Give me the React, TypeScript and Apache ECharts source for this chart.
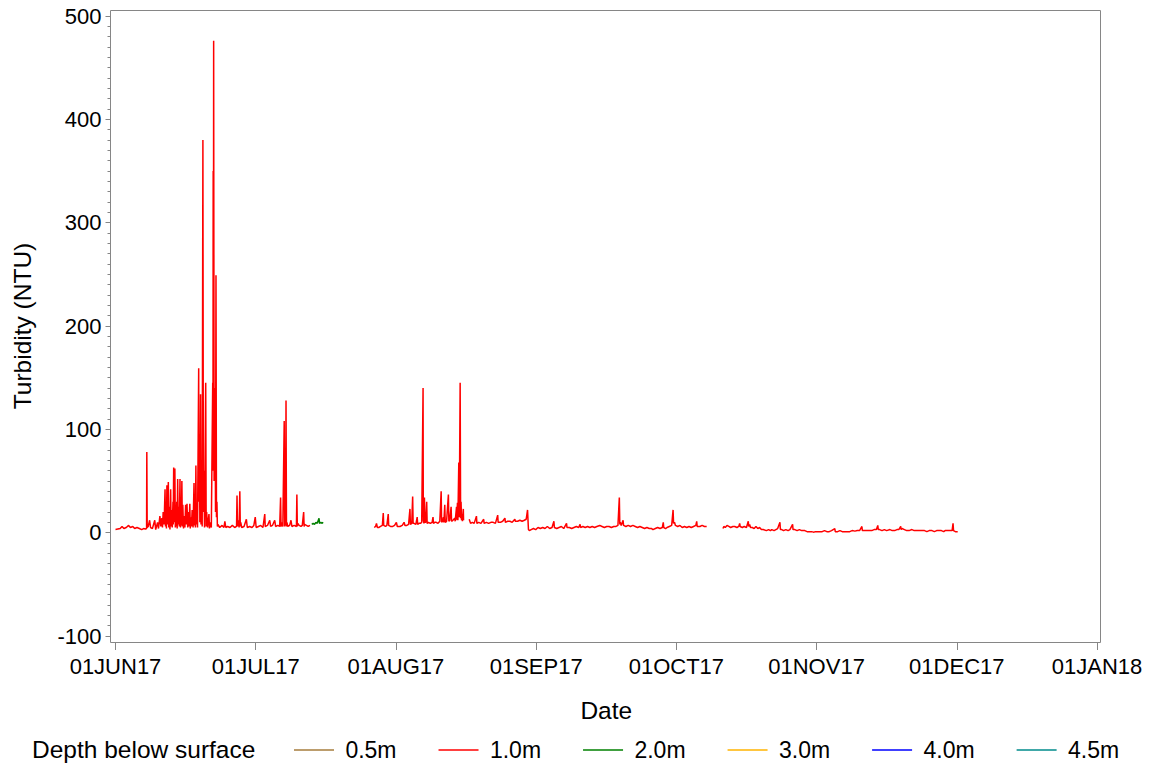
import React, { useEffect, useRef } from "react";
import * as echarts from "echarts";

// x tick labels (one per month start, evenly spaced as in the original)
const monthLabels = ["01JUN17", "01JUL17", "01AUG17", "01SEP17", "01OCT17", "01NOV17", "01DEC17", "01JAN18"];
// days since 01JUN17 at which each month starts
const monthStartDays = [0, 30, 61, 92, 122, 153, 183, 214];
const depthNames = ["0.5m", "1.0m", "2.0m", "3.0m", "4.0m", "4.5m"];
const depthColors = ["#A67C3D", "#FF0000", "#008000", "#FFB300", "#0000FF", "#008B8B"];

// [days since 01JUN17, turbidity NTU] — 1.0 m, first deployment
const d10SegA: number[][] = [
  [0.0,3],[0.5,3.5],[1.0,4],[1.4,6],[1.8,4],[2.3,5],[2.8,7],[3.2,5],[3.7,6],[4.1,4],[4.6,5],[5.1,4],[5.6,3],[6.0,4],[6.4,3.5],[6.65,4],[6.7,78],[6.78,5],[7.0,6],[7.3,12],[7.5,5],[7.9,4],[8.4,12],[8.6,3],[9.0,10],[9.2,4],[9.5,16],[9.7,6],[9.9,14],[10.05,5],[10.2,20],[10.4,8],[10.6,42],[10.7,6],[10.8,30],[10.9,4],[11.0,46],[11.15,8],[11.3,49],[11.4,5],[11.5,25],[11.65,3],[11.8,42],[11.9,6],[12.0,22],[12.15,5],[12.3,30],[12.35,8],[12.45,63],[12.55,10],[12.7,62],[12.8,5],[12.9,20],[13.0,6],[13.1,30],[13.2,4],[13.3,52],[13.4,8],[13.5,25],[13.65,6],[13.8,52],[13.9,5],[14.0,22],[14.1,7],[14.2,50],[14.3,6],[14.4,27],[14.55,4],[14.7,16],[14.85,5],[15.0,27],[15.15,8],[15.3,28],[15.45,5],[15.6,20],[15.75,6],[15.9,28],[16.0,4],[16.1,15],[16.25,6],[16.4,22],[16.6,5],[16.8,48],[16.9,7],[17.0,30],[17.1,5],[17.2,65],[17.3,8],[17.4,20],[17.55,5],[17.8,159],[17.85,30],[17.95,95],[18.05,10],[18.2,134],[18.3,8],[18.4,40],[18.55,6],[18.7,380],[18.8,20],[18.9,60],[19.05,5],[19.3,145],[19.4,6],[19.5,20],[19.7,5],[20.0,18],[20.1,4],[20.2,10],[20.5,5],[20.8,145],[20.85,60],[20.9,350],[20.95,120],[21.0,476],[21.1,50],[21.3,140],[21.4,20],[21.5,249],[21.6,15],[21.7,30],[21.8,6],[21.9,8],[22.3,5],[22.8,7],[23.2,5],[23.4,11],[23.6,5],[24.0,6],[24.5,5],[25.0,7],[25.5,5],[25.9,6],[26.0,36],[26.1,6],[26.3,12],[26.45,5],[26.6,40],[26.7,6],[26.8,10],[27.0,5],[27.5,6],[28.0,13],[28.2,5],[28.7,6],[29.2,5],[29.6,7],[29.9,15],[30.1,5],[30.6,6],[31.1,7],[31.6,5],[32.0,18],[32.1,6],[32.6,7],[33.1,12],[33.3,6],[33.7,7],[34.2,12],[34.4,6],[34.9,7],[35.3,6],[35.5,34],[35.6,6],[35.8,10],[36.0,6],[36.3,108],[36.4,6],[36.5,12],[36.6,7],[36.7,128],[36.8,6],[36.9,10],[37.1,6],[37.5,7],[37.8,12],[38.0,6],[38.5,7],[39.0,6],[39.1,37],[39.2,6],[39.3,9],[39.6,7],[40.0,6],[40.3,7],[40.6,20],[40.7,6],[40.8,8],[41.2,7],[41.6,6],[42.0,7]
];
// 1.0 m, second deployment
const d10SegB: number[][] = [
  [56.2,5],[56.5,6],[56.7,9],[56.9,5],[57.2,5],[57.6,6],[58.0,7],[58.2,19],[58.3,7],[58.7,6],[59.0,7],[59.3,18],[59.4,7],[59.8,6],[60.3,6],[60.7,7],[61.1,10],[61.3,6],[61.9,6],[62.4,7],[62.8,10],[63.0,7],[63.4,7],[63.8,8],[64.1,23],[64.2,8],[64.5,9],[64.7,35],[64.8,9],[65.0,9],[65.4,8],[65.7,15],[65.8,8],[66.1,9],[66.4,9],[66.7,10],[67.0,140],[67.05,12],[67.2,9],[67.3,34],[67.4,10],[67.6,10],[67.8,30],[67.9,9],[68.2,10],[68.6,9],[69.0,10],[69.2,15],[69.3,9],[69.6,10],[69.9,10],[70.3,9],[70.7,11],[71.0,40],[71.1,10],[71.3,11],[71.5,15],[71.6,10],[71.8,27],[71.9,10],[72.2,11],[72.6,37],[72.7,11],[72.9,12],[73.2,25],[73.3,11],[73.6,12],[74.0,14],[74.1,11],[74.4,25],[74.5,12],[74.6,29],[74.7,12],[74.9,68],[75.0,15],[75.2,145],[75.3,14],[75.4,30],[75.5,12],[75.6,18],[75.7,11],[75.9,23],[75.95,12]
];
// 1.0 m, third deployment
const d10SegC: number[][] = [
  [77.2,13],[77.5,9],[77.9,10],[78.3,9],[78.8,16],[78.9,9],[79.3,10],[79.8,9],[80.4,13],[80.5,9],[81.0,10],[81.5,9],[82.0,10],[82.5,10],[83.0,9],[83.5,17],[83.6,10],[84.1,10],[84.6,11],[85.1,14],[85.2,10],[85.7,11],[86.2,11],[86.7,10],[87.3,13],[87.4,11],[87.9,11],[88.4,12],[88.9,11],[89.4,12],[89.8,13],[90.1,22],[90.2,12],[90.3,3],[90.5,2],[90.9,3],[91.4,4],[91.9,3],[92.4,5],[92.9,4],[93.4,5],[93.9,4],[94.4,6],[94.9,4],[95.4,5],[95.8,11],[95.9,5],[96.4,4],[96.9,5],[97.4,6],[97.9,4],[98.5,9],[98.6,5],[99.1,5],[99.6,4],[100.1,5],[100.6,6],[101.1,5],[101.4,8],[101.5,5],[102.0,6],[102.5,5],[103.0,6],[103.5,5],[104.0,6],[104.5,5],[105.0,6],[105.6,7],[106.1,6],[106.6,5],[107.1,6],[107.6,6],[108.1,5],[108.6,6],[109.1,6],[109.5,7],[109.8,34],[109.9,8],[110.0,10],[110.2,7],[110.6,12],[110.7,7],[111.2,6],[111.7,7],[112.2,6],[112.7,7],[113.2,6],[113.7,5],[114.2,6],[114.7,5],[115.2,4],[115.7,5],[116.2,4],[116.7,4],[117.0,3],[117.5,4],[118.0,5],[118.5,4],[119.0,5],[119.2,10],[119.3,5],[119.7,4],[120.0,5],[120.5,6],[121.0,7],[121.3,22],[121.4,9],[121.6,10],[121.8,7],[122.3,6],[122.8,7],[123.3,5],[123.8,6],[124.3,5],[124.8,6],[125.3,5],[125.8,6],[126.3,7],[126.5,11],[126.6,6],[127.2,6],[127.7,7],[128.2,6],[128.7,6]
];
// 1.0 m, fourth deployment
const d10SegD: number[][] = [
  [132.3,4],[132.5,6],[132.8,5],[133.2,7],[133.6,6],[134.0,5],[134.5,6],[134.9,6],[135.4,5],[135.8,6],[136.0,9],[136.1,6],[136.6,5],[137.0,6],[137.5,5],[137.9,11],[138.0,6],[138.2,8],[138.4,5],[138.8,5],[139.2,4],[139.6,6],[140.0,4],[140.4,5],[140.8,3],[141.2,3],[141.9,2],[142.4,3],[142.8,2],[143.1,3],[143.6,2],[144.0,3],[144.4,4],[144.9,10],[145.0,3],[145.3,3],[145.7,2],[146.2,3],[146.7,2],[147.1,3],[147.7,8],[147.8,3],[148.2,3],[148.7,2],[149.2,3],[149.7,2],[150.4,2],[150.9,1],[151.4,1],[151.9,1],[152.3,0.5],[152.8,1],[153.3,1],[153.7,1],[154.2,1],[154.7,2],[155.2,1],[155.7,1],[156.2,2],[156.9,4],[157.0,1],[157.5,1],[158.0,2],[158.5,1],[159.1,1],[159.6,1],[160.1,1],[160.6,2],[161.2,1.5],[161.7,2],[162.2,2],[162.7,6],[162.8,2],[163.3,2],[163.8,2],[164.3,2],[164.8,2],[165.3,3],[165.8,3],[166.1,7],[166.2,3],[166.5,3],[167.0,2],[167.5,3],[168.0,2],[168.7,3],[169.2,2],[169.7,2],[170.2,3],[170.6,3],[171.0,6],[171.1,3],[171.3,4],[171.8,3],[172.3,2],[172.8,2],[173.4,3],[173.9,2],[174.4,2],[174.9,2],[175.6,2],[176.1,2],[176.6,1],[177.1,2],[177.7,2],[178.2,1],[178.7,2],[179.2,2],[179.7,2],[180.2,1],[180.5,2],[181.0,2],[181.5,2],[182.0,2],[182.2,9],[182.3,2],[182.7,1],[183.2,1]
];
// 2.0 m
const d20Seg: number[][] = [
  [42.4,8],[42.7,9],[43.0,8],[43.3,10],[43.6,9],[44.0,14],[44.1,9],[44.4,10],[44.7,9],[44.9,10]
];

function toMonthPos(day: number): number {
  for (let i = 0; i < monthStartDays.length - 1; i++) {
    if (day < monthStartDays[i + 1]) {
      return i + (day - monthStartDays[i]) / (monthStartDays[i + 1] - monthStartDays[i]);
    }
  }
  return monthStartDays.length - 1;
}

function build(segs: number[][][]): any[] {
  const out: any[] = [];
  segs.forEach((seg, k) => {
    if (k > 0) out.push([toMonthPos(seg[0][0] - 0.05), "-"]);
    seg.forEach(([d, v]) => out.push([toMonthPos(d), v]));
  });
  return out;
}

const AXIS = "#868686";
const FONT = '"Liberation Sans", Arial, sans-serif';

export default function App() {
  const ref = useRef<HTMLDivElement>(null);
  useEffect(() => {
    if (!ref.current) return;
    const chart = echarts.init(ref.current, undefined, { renderer: "svg" });
    const dataByDepth: Record<string, any[]> = {
      "0.5m": [],
      "1.0m": build([d10SegA, d10SegB, d10SegC, d10SegD]),
      "2.0m": build([d20Seg]),
      "3.0m": [],
      "4.0m": [],
      "4.5m": [],
    };
    chart.setOption({
      animation: false,
      textStyle: { fontFamily: FONT },
      grid: { left: 115.5, top: 16, width: 981.5, height: 620, containLabel: false },
      xAxis: {
        type: "value",
        min: 0,
        max: 7,
        interval: 1,
        offset: 6,
        name: "Date",
        nameLocation: "middle",
        nameGap: 56,
        nameTextStyle: { fontSize: 24.5, color: "#000", fontFamily: FONT },
        axisLine: { onZero: false, lineStyle: { color: AXIS } },
        axisTick: { length: 8, lineStyle: { color: AXIS } },
        axisLabel: {
          fontSize: 22,
          color: "#000",
          margin: 13,
          fontFamily: FONT,
          formatter: (v: number) => monthLabels[Math.round(v)] ?? "",
        },
        splitLine: { show: false },
      },
      yAxis: {
        type: "value",
        min: -100,
        max: 500,
        interval: 100,
        offset: 5,
        name: "Turbidity (NTU)",
        nameLocation: "middle",
        nameGap: 76,
        nameTextStyle: { fontSize: 24.5, color: "#000", fontFamily: FONT },
        axisLine: { show: true, onZero: false, lineStyle: { color: AXIS } },
        axisTick: { show: true, length: 5, lineStyle: { color: AXIS } },
        minorTick: { show: true, splitNumber: 10, length: 3, lineStyle: { color: AXIS } },
        axisLabel: { fontSize: 22, color: "#000", margin: 9, fontFamily: FONT },
        splitLine: { show: false },
        minorSplitLine: { show: false },
      },
      legend: {
        left: 294,
        top: 737,
        padding: 0,
        icon: "rect",
        itemWidth: 40,
        itemHeight: 1.5,
        itemGap: 42,
        selectedMode: false,
        formatter: " {name}",
        textStyle: { fontSize: 23, color: "#000", fontFamily: FONT, lineHeight: 26 },
        data: depthNames,
      },
      graphic: [
        {
          type: "rect",
          silent: true,
          shape: { x: 110.5, y: 10.5, width: 990, height: 632 },
          style: { fill: "none", stroke: AXIS, lineWidth: 1 },
        },
        {
          type: "text",
          left: 32,
          top: 737,
          silent: true,
          style: { text: "Depth below surface", fontSize: 24.5, fontFamily: FONT, fill: "#000" },
        },
      ],
      series: depthNames.map((n, i) => ({
        name: n,
        type: "line",
        data: dataByDepth[n],
        showSymbol: false,
        symbol: "none",
        connectNulls: false,
        color: depthColors[i],
        lineStyle: { width: 1.5, color: depthColors[i] },
        z: i === 2 ? 3 : 2,
      })),
    });
    return () => chart.dispose();
  }, []);
  return <div ref={ref} style={{ position: "absolute", left: 0, top: 0, width: 1151, height: 768 }} />;
}
